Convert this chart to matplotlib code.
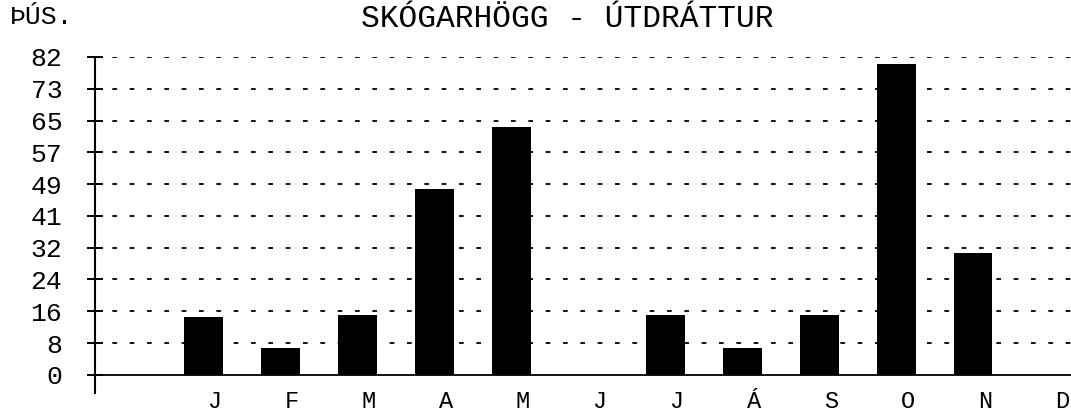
import matplotlib
matplotlib.use("Agg")
import matplotlib.pyplot as plt
import numpy as np

# manuðir og gildi (þús.)
months = ["J", "F", "M", "A", "M", "J", "J", "Á", "S", "O", "N", "D"]
values = [15, 7, 15.5, 48, 64, 0, 15.5, 7, 15.5, 80.3, 31.5, 0]
ytick_vals = [0, 8.2, 16.4, 24.6, 32.8, 41, 49.2, 57.4, 65.6, 73.8, 82]
ytick_labels = ["0", "8", "16", "24", "32", "41", "49", "57", "65", "73", "82"]

plt.rcParams["font.family"] = ["Liberation Mono", "DejaVu Sans Mono"]
fs = 19

fig = plt.figure(figsize=(10.71, 4.12), dpi=100)
ax = fig.add_axes([0.0887, 0.0461, 0.9113, 0.8156])

x = np.arange(len(months))
# súlurnar eru aðeins til vinstri við merkin
ax.bar(x - 0.15, values, width=0.5, color="black", zorder=3)

ax.set_xlim(-1.56, 11.12)
ax.set_ylim(-4.7, 82)

# strikaðar hjálparlínur
for v in ytick_vals[1:]:
    ax.axhline(v, color="black", lw=1.3, dashes=(2.6, 7), zorder=1)
ax.axhline(0, color="black", lw=1.3, zorder=2)

for s in ["top", "right", "bottom"]:
    ax.spines[s].set_visible(False)
ax.spines["left"].set_linewidth(1.5)

ax.set_yticks(ytick_vals)
ax.set_yticklabels(ytick_labels, fontsize=fs)
ax.tick_params(axis="y", direction="inout", length=11, width=1.4, pad=18)

ax.set_xticks(x)
ax.set_xticklabels(months, fontsize=17)
ax.tick_params(axis="x", length=0, pad=-2.5)

fig.text(0.009, 0.958, "ÞÚS.", fontsize=fs, va="center", ha="left")
fig.text(0.53, 0.955, "SKÓGARHÖGG - ÚTDRÁTTUR", fontsize=22.5, va="center", ha="center")

plt.savefig("out.png", dpi=100)
